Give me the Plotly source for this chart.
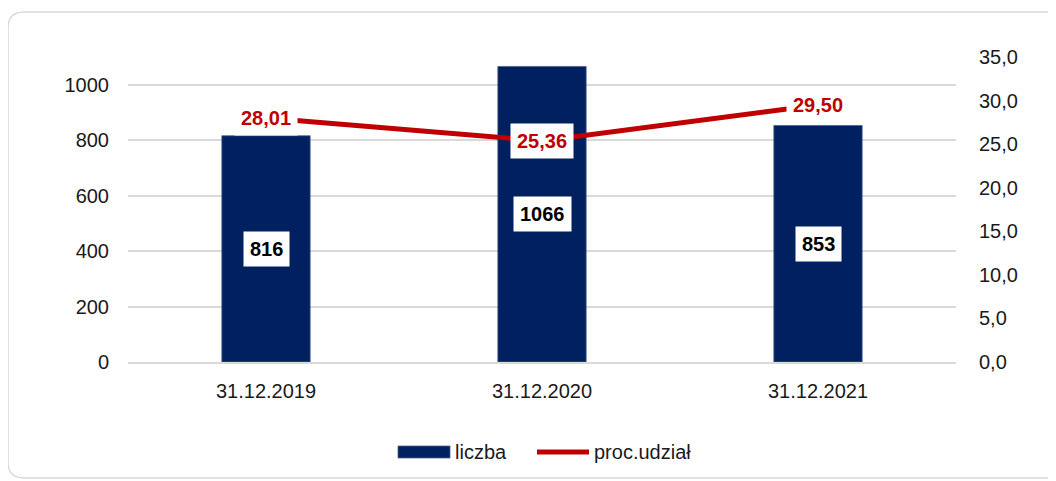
import plotly.graph_objects as go

categories = ["31.12.2019", "31.12.2020", "31.12.2021"]
liczba = [816, 1066, 853]
proc_udzial = [28.01, 25.36, 29.50]

NAVY = "#002060"
RED = "#C00000"
GRID = "#D9D9D9"
FONT = "Liberation Sans, Arial, sans-serif"

# page offset of the figure div (body margin)
OFF = 8
W, H = 1048, 473
PLOT_L, PLOT_R, PLOT_T, PLOT_B = 128, 956, 57, 362  # page pixels
L, R = PLOT_L - OFF, W - (PLOT_R - OFF)
T, B = PLOT_T - OFF, H - (PLOT_B - OFF)
PW, PH = PLOT_R - PLOT_L, PLOT_B - PLOT_T


def px_x(px):
    return (px - PLOT_L) / PW


def px_y(py):
    return (PLOT_B - py) / PH


fig = go.Figure()

fig.add_trace(go.Bar(
    x=categories, y=liczba, name="liczba",
    marker=dict(color=NAVY, line=dict(color="#4a6290", width=0.8)),
    width=0.32, yaxis="y", showlegend=False, hoverinfo="x+y",
))

fig.add_trace(go.Scatter(
    x=categories, y=proc_udzial, name="proc.udział", mode="lines",
    line=dict(color=RED, width=5), yaxis="y2", showlegend=False,
))

# bar value labels (white boxes in the middle of the bars)
for c, v in zip(categories, liczba):
    fig.add_annotation(
        x=c, y=v / 2, xref="x", yref="y", text=f"<b>{v}</b>", showarrow=False,
        font=dict(family=FONT, size=20, color="black"),
        bgcolor="white", borderpad=6,
    )

# line value labels
for c, v in zip(categories, proc_udzial):
    fig.add_annotation(
        x=c, y=v, xref="x", yref="y2", text=f"<b>{v:.2f}</b>".replace(".", ","),
        showarrow=False, font=dict(family=FONT, size=20, color=RED),
        bgcolor="white", borderpad=6,
    )

# custom legend
ly = px_y(452)
fig.add_shape(type="rect", xref="paper", yref="paper",
              x0=px_x(398), x1=px_x(450), y0=px_y(458), y1=px_y(446),
              fillcolor=NAVY, line=dict(color="#4a6290", width=0.8))
fig.add_annotation(x=px_x(453), y=ly, xref="paper", yref="paper", text="liczba",
                   showarrow=False, xanchor="left", yanchor="middle",
                   font=dict(family=FONT, size=20, color="#1a1a1a"))
fig.add_shape(type="line", xref="paper", yref="paper",
              x0=px_x(537), x1=px_x(589), y0=ly, y1=ly,
              line=dict(color=RED, width=5))
fig.add_annotation(x=px_x(592), y=ly, xref="paper", yref="paper", text="proc.udział",
                   showarrow=False, xanchor="left", yanchor="middle",
                   font=dict(family=FONT, size=20, color="#1a1a1a"))

# rounded frame around the chart (right side runs off the page)
x0, y0 = 8, 12
x1, y1 = 1068, 478
r = 16
path = (
    f"M {px_x(x0)},{px_y(y1 - r)} "
    f"L {px_x(x0)},{px_y(y0 + r)} "
    f"Q {px_x(x0)},{px_y(y0)} {px_x(x0 + r)},{px_y(y0)} "
    f"L {px_x(x1 - r)},{px_y(y0)} "
    f"Q {px_x(x1)},{px_y(y0)} {px_x(x1)},{px_y(y0 + r)} "
    f"L {px_x(x1)},{px_y(y1 - r)} "
    f"Q {px_x(x1)},{px_y(y1)} {px_x(x1 - r)},{px_y(y1)} "
    f"L {px_x(x0 + r)},{px_y(y1)} "
    f"Q {px_x(x0)},{px_y(y1)} {px_x(x0)},{px_y(y1 - r)} Z"
)
fig.add_shape(type="path", path=path, xref="paper", yref="paper",
              line=dict(color=GRID, width=1.5), layer="below")

fig.update_layout(
    width=W, height=H,
    margin=dict(l=L, r=R, t=T, b=B),
    paper_bgcolor="white", plot_bgcolor="white",
    separators=", ",
    font=dict(family=FONT, size=20, color="#1a1a1a"),
    xaxis=dict(showgrid=False, showline=True, linecolor=GRID, linewidth=1.5,
               ticks="", ticklabelstandoff=10, tickfont=dict(size=20)),
    yaxis=dict(range=[0, 1100], tickvals=[0, 200, 400, 600, 800, 1000],
               tickformat="d", showgrid=True, gridcolor=GRID, gridwidth=1.5,
               zeroline=False, showline=False, ticks="", ticklabelstandoff=18,
               tickfont=dict(size=20)),
    yaxis2=dict(range=[0, 35], dtick=5, tickformat=".1f", overlaying="y",
                side="right", showgrid=False, zeroline=False, showline=False,
                ticks="", ticklabelstandoff=22, tickfont=dict(size=20)),
    showlegend=False,
)

fig.write_html("out.html")
